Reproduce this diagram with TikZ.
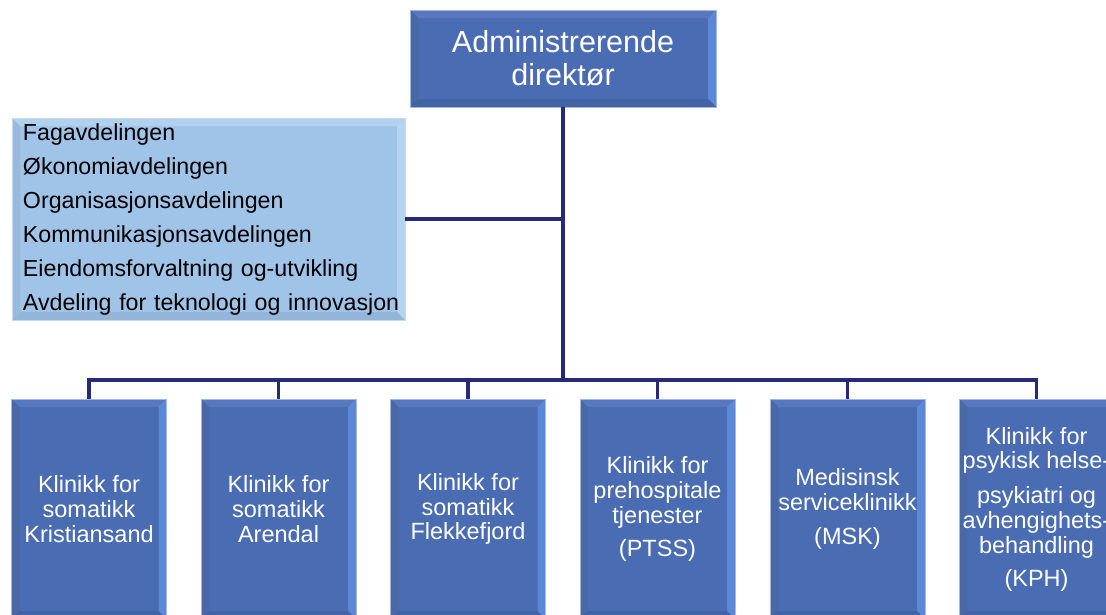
\documentclass[tikz,border=0pt]{standalone}
\usepackage{fontspec}
\setmainfont{Liberation Sans}
\usetikzlibrary{calc}
\definecolor{boxblue}{HTML}{4A6CB3}
\definecolor{bvtop}{HTML}{5778C0}
\definecolor{bvleft}{HTML}{4A67A6}
\definecolor{bvright}{HTML}{5C88D8}
\definecolor{bvbot}{HTML}{4263A6}
\definecolor{bedge}{HTML}{A6B8DC}
\definecolor{lightbox}{HTML}{A0C4E8}
\definecolor{lbtop}{HTML}{B2D1EF}
\definecolor{lbleft}{HTML}{97BADD}
\definecolor{lbright}{HTML}{B5D4F2}
\definecolor{lbbot}{HTML}{92B5D9}
\definecolor{lbedge}{HTML}{C8D9EC}
\definecolor{navy}{HTML}{262A78}
\tikzset{
  bevelled/.style n args={4}{path picture={
    \path (path picture bounding box.north west) coordinate (pnw)
          (path picture bounding box.south east) coordinate (pse);
    \fill[#1] (pnw) -- (pse|-pnw) -- ($(pse|-pnw)+(-8,8)$) -- ($(pnw)+(8,8)$) -- cycle;
    \fill[#2] (pnw) -- ($(pnw)+(8,8)$) -- ($(pnw|-pse)+(8,-8)$) -- (pnw|-pse) -- cycle;
    \fill[#3] (pse|-pnw) -- (pse) -- ($(pse)+(-8,-8)$) -- ($(pse|-pnw)+(-8,8)$) -- cycle;
    \fill[#4] (pnw|-pse) -- (pse) -- ($(pse)+(-8,-8)$) -- ($(pnw|-pse)+(8,-8)$) -- cycle;
  }},
  darkbox/.style={draw=bedge, line width=0.8pt, fill=boxblue,
    bevelled={bvtop}{bvleft}{bvright}{bvbot},
    text=white, align=center, inner sep=0pt},
  clinic/.style={darkbox, minimum width=155pt, minimum height=220pt,
    font=\fontsize{23.5}{24.8}\selectfont},
  staffbox/.style={draw=lbedge, line width=0.8pt, fill=lightbox,
    bevelled={lbtop}{lbleft}{lbright}{lbbot},
    text=black, align=left, minimum width=393pt, minimum height=202pt,
    text width=371pt, inner xsep=11pt, inner ysep=0pt,
    font=\fontsize{23.2}{34}\selectfont},
  conn/.style={draw=navy, line width=3.2pt}
}
\begin{document}
\begin{tikzpicture}[x=1pt,y=-1pt]
\useasboundingbox (0,0) rectangle (1106,614);
\fill[white] (0,0) rectangle (1106,614);

\node[darkbox, minimum width=306pt, minimum height=97pt,
  font=\fontsize{30.5}{33}\selectfont] (top) at (563,58.5) {Administrerende\\direktør};

\node[staffbox] (staff) at (208.5,219) {\mbox{Fagavdelingen}\\\mbox{Økonomiavdelingen}\\\mbox{Organisasjonsavdelingen}\\\mbox{Kommunikasjonsavdelingen}\\\mbox{Eiendomsforvaltning og-utvikling}\\\mbox{Avdeling for teknologi og innovasjon}};

\node[clinic] (b1) at (89,509) {Klinikk for\\somatikk\\Kristiansand};
\node[clinic] (b2) at (278.5,509) {Klinikk for\\somatikk\\Arendal};
\node[clinic] (b3) at (468,509) {Klinikk for\\somatikk\\Flekkefjord};
\node[clinic] (b4) at (657.5,509) {Klinikk for\\prehospitale\\tjenester\\[8.5pt](PTSS)};
\node[clinic] (b5) at (847.5,509) {Medisinsk\\serviceklinikk\\[9pt](MSK)};
\node[clinic] (b6) at (1036.5,509) {Klinikk for\\psykisk helse-\\[10pt]psykiatri og\\avhengighets-\\behandling\\[8pt](KPH)};

\coordinate (bus) at (563,380);
\draw[conn] (top.south) -- (bus);
\draw[conn] (staff.east) -- (staff.east -| top.south);
\draw[conn] (b1.north) |- (bus) -| (b6.north);
\draw[conn] (b2.north) -- (b2.north |- bus);
\draw[conn] (b3.north) -- (b3.north |- bus);
\draw[conn] (b4.north) -- (b4.north |- bus);
\draw[conn] (b5.north) -- (b5.north |- bus);
\end{tikzpicture}
\end{document}
